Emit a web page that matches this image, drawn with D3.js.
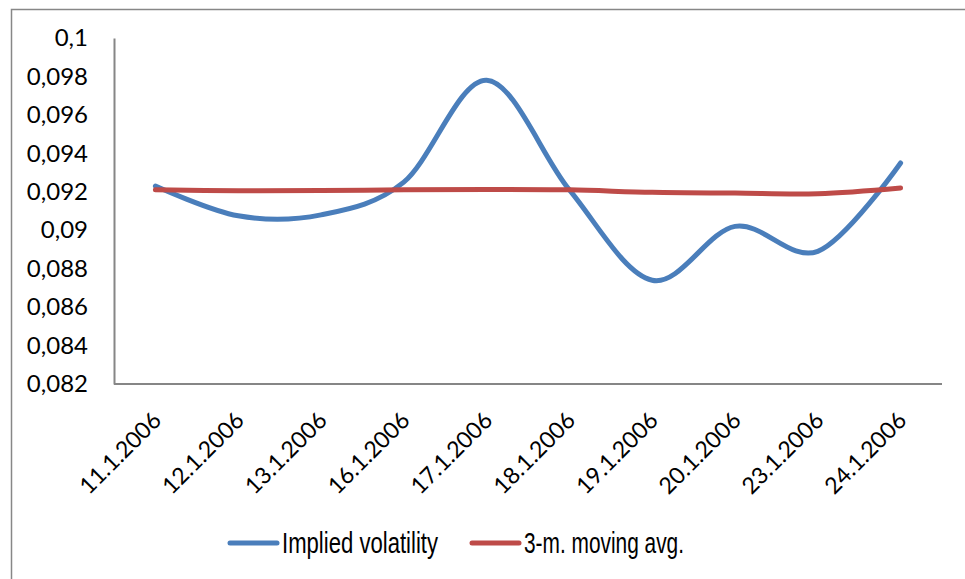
<!DOCTYPE html>
<html>
<head>
<meta charset="utf-8">
<script src="https://cdn.jsdelivr.net/npm/d3@7"></script>
<style>
  html, body { margin: 0; padding: 0; background: #fff; }
  svg { display: block; }
</style>
</head>
<body>
<svg id="chart" width="965" height="579"></svg>
<script>
// Dates on the category axis
const dates = ["11.1.2006", "12.1.2006", "13.1.2006", "16.1.2006", "17.1.2006",
               "18.1.2006", "19.1.2006", "20.1.2006", "23.1.2006", "24.1.2006"];
// Implied volatility per day
const impliedVol = [0.0923, 0.09075, 0.0908, 0.0925, 0.0978,
                    0.0921, 0.0874, 0.0902, 0.0889, 0.0935];
// 3-month moving average
const movingAvg = [0.0921, 0.09205, 0.09206, 0.0921, 0.09212,
                   0.0921, 0.09197, 0.09193, 0.0919, 0.0922];
// Value axis ticks
const yTicks = [0.082, 0.084, 0.086, 0.088, 0.09, 0.092, 0.094, 0.096, 0.098, 0.1];
const seriesNames = ["Implied volatility", "3-m. moving avg."];

const svg = d3.select("#chart");
const plot = { left: 114, right: 942, top: 38, bottom: 384 };
const axisColor = "#868686";

// Outer chart frame
svg.append("rect")
  .attr("x", 11.5).attr("y", 9.5)
  .attr("width", 1000).attr("height", 1000)
  .attr("fill", "none").attr("stroke", "#878787").attr("stroke-width", 1.5);

const x = d3.scalePoint().domain(dates).range([plot.left, plot.right]).padding(0.5);
const y = d3.scaleLinear().domain([0.082, 0.1]).range([plot.bottom, plot.top]);

const fmt = d => String(+d.toFixed(3)).replace(".", ",");

// Y axis
const yAxis = svg.append("g")
  .attr("transform", `translate(${plot.left},0)`)
  .call(d3.axisLeft(y).tickValues(yTicks).tickFormat(fmt).tickSize(0).tickSizeOuter(0).tickPadding(26));
yAxis.select(".domain").attr("stroke", axisColor).attr("stroke-width", 2);
yAxis.selectAll("text")
  .attr("font-family", "Lato, 'Open Sans', sans-serif")
  .attr("font-size", 24).attr("fill", "#000");

// X axis
const xAxis = svg.append("g")
  .attr("transform", `translate(0,${plot.bottom})`)
  .call(d3.axisBottom(x).tickSize(0).tickSizeOuter(0).tickFormat(d => d));
xAxis.select(".domain")
  .attr("d", `M${plot.left},0H${plot.right}`)
  .attr("stroke", axisColor).attr("stroke-width", 2);
xAxis.selectAll("text")
  .attr("font-family", "Lato, 'Open Sans', sans-serif")
  .attr("font-size", 23).attr("fill", "#000")
  .attr("text-anchor", "end")
  .attr("dy", "0.35em")
  .attr("transform", "translate(-1,30) rotate(-45)");

// Series lines (smoothed)
const line = d3.line()
  .x((d, i) => x(dates[i]))
  .y(d => y(d))
  .curve(d3.curveCatmullRom.alpha(0));

const series = [
  { name: seriesNames[0], values: impliedVol, color: "#4A7EBB", width: 156 },
  { name: seriesNames[1], values: movingAvg, color: "#BE4B48", width: 160 }
];

series.forEach(s => {
  svg.append("path")
    .datum(s.values)
    .attr("d", line)
    .attr("fill", "none")
    .attr("stroke", s.color)
    .attr("stroke-width", 5)
    .attr("stroke-linecap", "round")
    .attr("stroke-linejoin", "round");
});

// Legend (narrow sans lettering)
const legendX = [230, 472];
const legend = svg.append("g");
series.forEach((s, i) => {
  const g = legend.append("g").attr("transform", `translate(${legendX[i]},543)`);
  g.append("line")
    .attr("x1", 0).attr("x2", 47).attr("y1", 0).attr("y2", 0)
    .attr("stroke", s.color).attr("stroke-width", 5).attr("stroke-linecap", "round");
  g.append("text")
    .attr("x", 52).attr("y", 0).attr("dy", "0.36em")
    .attr("font-family", "'Liberation Sans', Arial, sans-serif")
    .attr("font-size", 29).attr("fill", "#000")
    .attr("textLength", s.width)
    .attr("lengthAdjust", "spacingAndGlyphs")
    .text(s.name);
});
</script>
</body>
</html>
